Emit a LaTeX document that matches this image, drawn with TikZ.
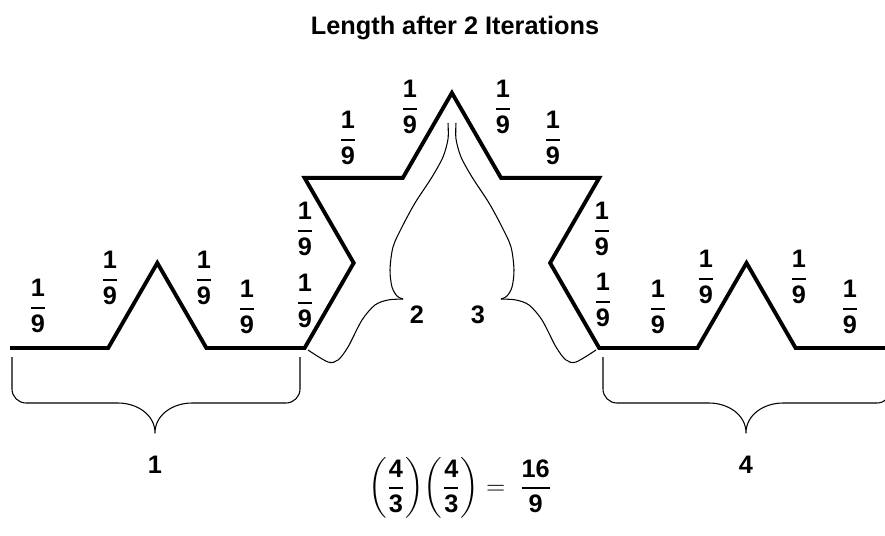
\documentclass[tikz,border=0pt]{standalone}
\usepackage{amsmath}
\usepackage{fontspec}
\setmainfont{Liberation Sans}
\usetikzlibrary{positioning}
\newcommand{\bfrac}[2]{\genfrac{}{}{1.1pt}{0}{\textbf{#1}}{\textbf{#2}}}

\tikzset{
    koch/.style={line width=2.2pt, line join=miter},
    brace/.style={line width=0.6pt, line join=round},
    lbl/.style={font=\Large\bfseries, inner sep=1pt}
}

\begin{document}
\begin{tikzpicture}[x=0.02cm, y=0.02cm]
    \useasboundingbox (0,0) rectangle (885,535);
    \clip (0,0) rectangle (885,535);

    % Title
    \node[lbl] (title) at (455,507) {Length after 2 Iterations};

    % Koch curve after two iterations
    \def\seg{98.2}
    \draw[koch] (10,187) coordinate (start)
        -- ++(0:\seg) -- ++(60:\seg) -- ++(-60:\seg) -- ++(0:\seg)
        -- ++(60:\seg) -- ++(120:\seg) -- ++(0:\seg) -- ++(60:\seg)
        -- ++(-60:\seg) -- ++(0:\seg) -- ++(-120:\seg) -- ++(-60:\seg)
        -- ++(0:\seg) -- ++(60:\seg) -- ++(-60:\seg) -- ++(0:\seg) coordinate (end);

    % Length of every small segment
    \foreach \x/\y [count=\i] in {38/229, 110/257, 204/257, 247/228, 305/234, 305/306,
                                  348/397, 410/428, 503/428, 553/397, 602/306, 603/235,
                                  658/228, 706/258, 799/258, 850/228}
        \node[lbl] (ninth\i) at (\x,\y) {$\bfrac{1}{9}$};

    % Braces under the flat quarters
    \foreach \dx/\num in {0/1, 591/4} {
        \draw[brace, shift={(\dx,0)}] (12,178) -- (12,146) to[out=-90, in=180] (26,132)
            -- (118,132) to[out=0, in=90] (155,102) to[out=90, in=180] (192,132)
            -- (286,132) to[out=0, in=-90] (300,146) -- (300,178);
        \node[lbl] (part\num) at (155+\dx,70) {\num};
    }

    % Braces along the raised quarters (second one mirrored)
    \foreach \flip/\off in {1/0, -1/904} {
        \begin{scope}[shift={(\off,0)}, xscale=\flip]
            \draw[brace] plot[smooth] coordinates {(448,412) (448,396) (443,378) (432,358) (415,332)
                (402,308) (393,288) (390,265) (392,248) (397,239) (403,236)};
            \draw[brace] plot[smooth] coordinates {(403,236) (388,235) (375,230) (362,215) (348,188)
                (338,175) (328,173) (308,185)};
        \end{scope}
    }
    \node[lbl] (part2) at (417,220) {2};
    \node[lbl] (part3) at (478,220) {3};

    % Total length
    \node[lbl] (total) at (460,47)
        {${\left(\bfrac{4}{3}\right)}{\left(\bfrac{4}{3}\right)} = \;\bfrac{16}{9}$};

\end{tikzpicture}
\end{document}
